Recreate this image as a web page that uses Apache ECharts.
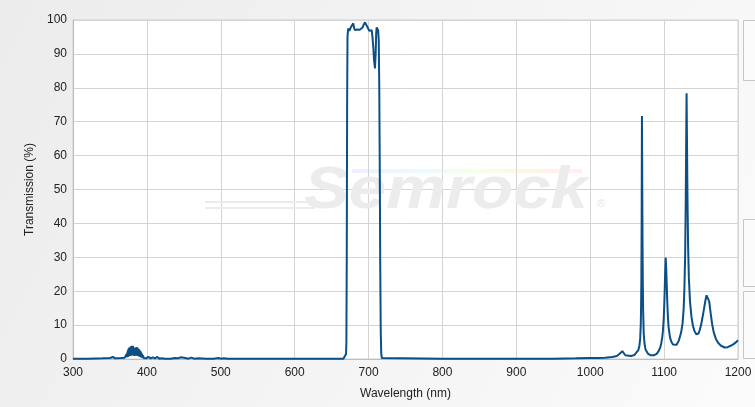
<!DOCTYPE html>
<html>
<head>
<meta charset="utf-8">
<script src="https://cdn.jsdelivr.net/npm/echarts@6/dist/echarts.min.js"></script>
<style>
html,body{margin:0;padding:0;}
#chart{width:755px;height:407px;}
</style>
</head>
<body>
<div id="chart"></div>
<script>
// ---- data (wavelength nm, transmission %) ----
var xTicks = [300, 400, 500, 600, 700, 800, 900, 1000, 1100, 1200];
var yTicks = [0, 10, 20, 30, 40, 50, 60, 70, 80, 90, 100];

var uvBase = [[300,0.1],[320,0.1],[340,0.2],[350,0.3],[354,0.6],[357,0.2],[365,0.3],[370,0.4]];

var blueNoise = [[372,0.6],[372.5,1.4],[373,0.5],[373.4,1.9],[373.8,0.6],[374.1,2.4],[374.4,0.7],[374.7,2.8],
 [375,0.9],[375.3,3.0],[375.6,1.0],[375.9,3.2],[376.2,0.8],[376.5,3.4],[376.8,1.2],[377.1,3.3],[377.4,0.9],
 [377.7,3.6],[378,1.1],[378.3,3.5],[378.6,1.3],[378.9,3.8],[379.2,1.0],[379.5,3.6],[379.8,1.4],[380.1,3.9],
 [380.4,1.2],[380.7,3.7],[381,1.5],[381.3,3.8],[381.6,1.1],[381.9,3.4],[382.2,1.3],[382.5,3.1],[382.8,0.9],
 [383.1,2.9],[383.4,1.2],[383.7,3.0],[384,1.0],[384.3,3.2],[384.6,1.3],[384.9,3.4],[385.2,1.1],[385.5,3.3],
 [385.8,1.4],[386.1,3.5],[386.4,1.0],[386.7,3.2],[387,1.2],[387.3,3.3],[387.6,0.9],[387.9,3.1],[388.2,1.1],
 [388.5,3.0],[388.8,0.8],[389.1,2.9],[389.4,0.9],[389.7,2.7],[390,0.7],[390.3,2.6],[390.6,0.8],[390.9,2.4],
 [391.2,0.6],[391.5,2.2],[391.8,0.5],[392.1,2.0],[392.4,0.5],[392.7,1.7],[393,0.4],[393.4,1.5],[393.8,0.4],
 [394.2,1.2],[394.6,0.3],[395,1.0],[395.5,0.3],[396,0.8],[397,0.3],[398,0.6],[399,0.2],[400,0.5],[401,0.2],
 [402,0.6],[403,0.2],[404,0.5],[405,0.2],[406,0.7],[407,0.2],
 [408,0.5],[409,0.2],[410,0.8],[411,0.2],[412,0.5],[413,0.1],[414,0.6],[415,0.2],[416,0.4],[417,0.1],[418,0.5],
 [420,0.2],[422,0.4],[424,0.1],[426,0.3],[428,0.1],[430,0.4],[432,0.1],[434,0.2],[438,0.3],[442,0.2],[446,0.5],
 [448,0.1],[452,0.3],[456,0.1],[460,0.4],[464,0.1],[470,0.2],[480,0.1],[490,0.1],[497,0.3],[500,0.1],[504,0.2],
 [510,0.1]];

var visBase = [[520,0.05],[600,0.05],[650,0.05],[666,0.1],[668,0.3],[669.5,1.5]];

var passband = [[670,5],[670.5,30],[671,75],[671.5,95],[672.5,97.5],[674,96.8],[675.5,97.6],[677,98.2],[678.3,97.8],
 [679.3,99],[680.5,97.6],[681.6,97],[683,97.5],[684.5,97.2],[686,97.3],[688,97.1],[690.5,97],[692,97.8],[693.5,98.7],
 [695.2,99.3],[696.5,99.4],[697.5,98.8],[699.5,97.5],[701,96.8],[702,96.5],[703,96.9],[704.2,97],[705.3,95],
 [706.4,92],[707.5,88],[708.7,85.7],[709.6,90],[710.3,96],[711,97.8],[712,97.5],[713,97],[713.8,94],[714.5,80],
 [715.2,55],[715.8,28],[716.5,8],[717.2,1.5],[718,0.3],[720,0.1]];

var nirBase = [[800,0.05],[900,0.05],[950,0.1],[980,0.2],[1000,0.3],[1010,0.3],[1020,0.4],[1030,0.6],[1036,0.9],
 [1039,1.4],[1041,1.9],[1043.5,2.3],[1045.5,1.7],[1047.5,1.1],[1050,0.9],[1055,0.9],[1060,1.2]];

var nirPeaks = [[1062,1.6],[1065,2.6],[1066.5,3.8],[1067.6,6],[1068.4,10],[1068.8,15],[1069.2,23],[1069.6,40],
 [1070,71.7],[1070.4,52],[1070.8,34],[1071.2,22],[1071.6,14.5],[1072.4,7.5],[1073.5,4.5],[1075,2.7],[1078,1.6],
 [1082,1.1],[1086,1.1],[1090,1.5],[1093,2.5],[1095,3.6],[1096,4.5],[1097.5,6.4],[1098.5,8.5],[1099.5,12],
 [1100.3,16.5],[1100.9,21],[1101.5,26],[1102.1,29.9],[1102.7,27.5],[1103.4,23],[1104.1,18],[1105,13],[1106,9.5],
 [1108,6.3],[1110,5],[1112,4.3],[1114.6,3.9],[1117,4.2],[1120,5.5],[1123,7.8],[1125,10.5],[1126.5,15],[1127.5,21],
 [1128.5,31],[1129.3,47],[1129.9,65],[1130.4,78.4],[1130.9,66],[1131.6,48],[1132.5,33],[1133.5,24],[1135,17],
 [1137,12.5],[1139,9.8],[1141,8.3],[1143.5,7.3],[1145,7.2],[1146.5,7.5],[1148,8.4],[1150,10],[1152,12.3],
 [1154,14.8],[1156,17.4],[1157.5,18.8],[1158.5,19.2],[1159.5,18.8],[1161,17],[1163,13.5],[1165,10.3],[1167,8],
 [1170,6],[1173,4.8],[1177,3.9],[1182,3.4],[1186,3.5],[1190,3.9],[1194,4.4],[1197,4.9],[1200,5.5]];

var spectrum = [].concat(uvBase, blueNoise, visBase, passband, nirBase, nirPeaks);

var chart = echarts.init(document.getElementById('chart'), null, {renderer: 'canvas'});
var labelFont = {fontFamily: 'Liberation Sans, Arial, sans-serif', fontSize: 12, color: '#222'};

chart.setOption({
  animation: false,
  backgroundColor: {
    type: 'linear', x: 0, y: 0, x2: 1, y2: 1,
    colorStops: [{offset: 0, color: '#ececec'}, {offset: 1, color: '#fbfbfb'}]
  },
  grid: {left: 73, right: 17, top: 20, bottom: 48, show: true, backgroundColor: '#ffffff',
         borderColor: '#cfcfcf', borderWidth: 1, containLabel: false},
  xAxis: {
    type: 'value', min: xTicks[0], max: xTicks[xTicks.length - 1], interval: 100,
    name: 'Wavelength (nm)', nameLocation: 'middle', nameGap: 29,
    nameTextStyle: labelFont,
    axisLine: {show: true, lineStyle: {color: '#bdbdbd', width: 1}},
    axisTick: {show: false},
    axisLabel: Object.assign({margin: 8, formatter: function (v) { return String(v); }}, labelFont),
    splitLine: {show: true, lineStyle: {color: '#d4d4d4', width: 1}}
  },
  yAxis: {
    type: 'value', min: yTicks[0], max: yTicks[yTicks.length - 1], interval: 10,
    name: 'Transmission (%)', nameLocation: 'middle', nameGap: 37,
    nameTextStyle: labelFont,
    axisLine: {show: true, lineStyle: {color: '#bdbdbd', width: 1}},
    axisTick: {show: false},
    axisLabel: Object.assign({margin: 6, formatter: function (v) { return String(v); }}, labelFont),
    splitLine: {show: true, lineStyle: {color: '#d4d4d4', width: 1}}
  },
  graphic: [
    // right-side cut-off panels
    {type: 'rect', z: 1, shape: {x: 743.5, y: 20.5, width: 30, height: 60},
     style: {fill: '#fbfbfb', stroke: '#c6c6c6', lineWidth: 1}},
    {type: 'rect', z: 1, shape: {x: 743.5, y: 219.5, width: 30, height: 67},
     style: {fill: '#fbfbfb', stroke: '#c6c6c6', lineWidth: 1}},
    {type: 'rect', z: 1, shape: {x: 743.5, y: 291.5, width: 30, height: 67},
     style: {fill: '#fbfbfb', stroke: '#c6c6c6', lineWidth: 1}},
    // watermark
    {type: 'rect', z: 1, silent: true, shape: {x: 205, y: 201, width: 115, height: 2},
     style: {fill: '#ebebeb'}},
    {type: 'rect', z: 1, silent: true, shape: {x: 205, y: 207, width: 110, height: 2},
     style: {fill: '#ebebeb'}},
    {type: 'rect', z: 1, silent: true, shape: {x: 352, y: 169, width: 230, height: 4},
     style: {fill: {type: 'linear', x: 0, y: 0, x2: 1, y2: 0, colorStops: [
       {offset: 0, color: 'rgba(200,200,255,0.3)'}, {offset: 0.3, color: 'rgba(190,240,255,0.3)'},
       {offset: 0.55, color: 'rgba(230,255,190,0.35)'}, {offset: 0.8, color: 'rgba(255,220,180,0.35)'},
       {offset: 1, color: 'rgba(255,200,210,0.3)'}]}}},
    {type: 'text', z: 1, silent: true, x: 304, y: 191, scaleX: 1.12,
     style: {text: 'Semrock', fill: '#ececec', font: 'italic bold 60px "Liberation Sans", Arial, sans-serif',
             verticalAlign: 'middle', align: 'left'}},
    {type: 'text', z: 1, silent: true, x: 597, y: 204,
     style: {text: '®', fill: '#e6e6e6', font: '11px "Liberation Sans", Arial, sans-serif',
             verticalAlign: 'middle', align: 'left'}}
  ],
  series: [{
    type: 'line', data: spectrum, showSymbol: false, smooth: false, sampling: null,
    z: 3, clip: true,
    lineStyle: {color: '#0b4f84', width: 2}
  }]
});
</script>
</body>
</html>
